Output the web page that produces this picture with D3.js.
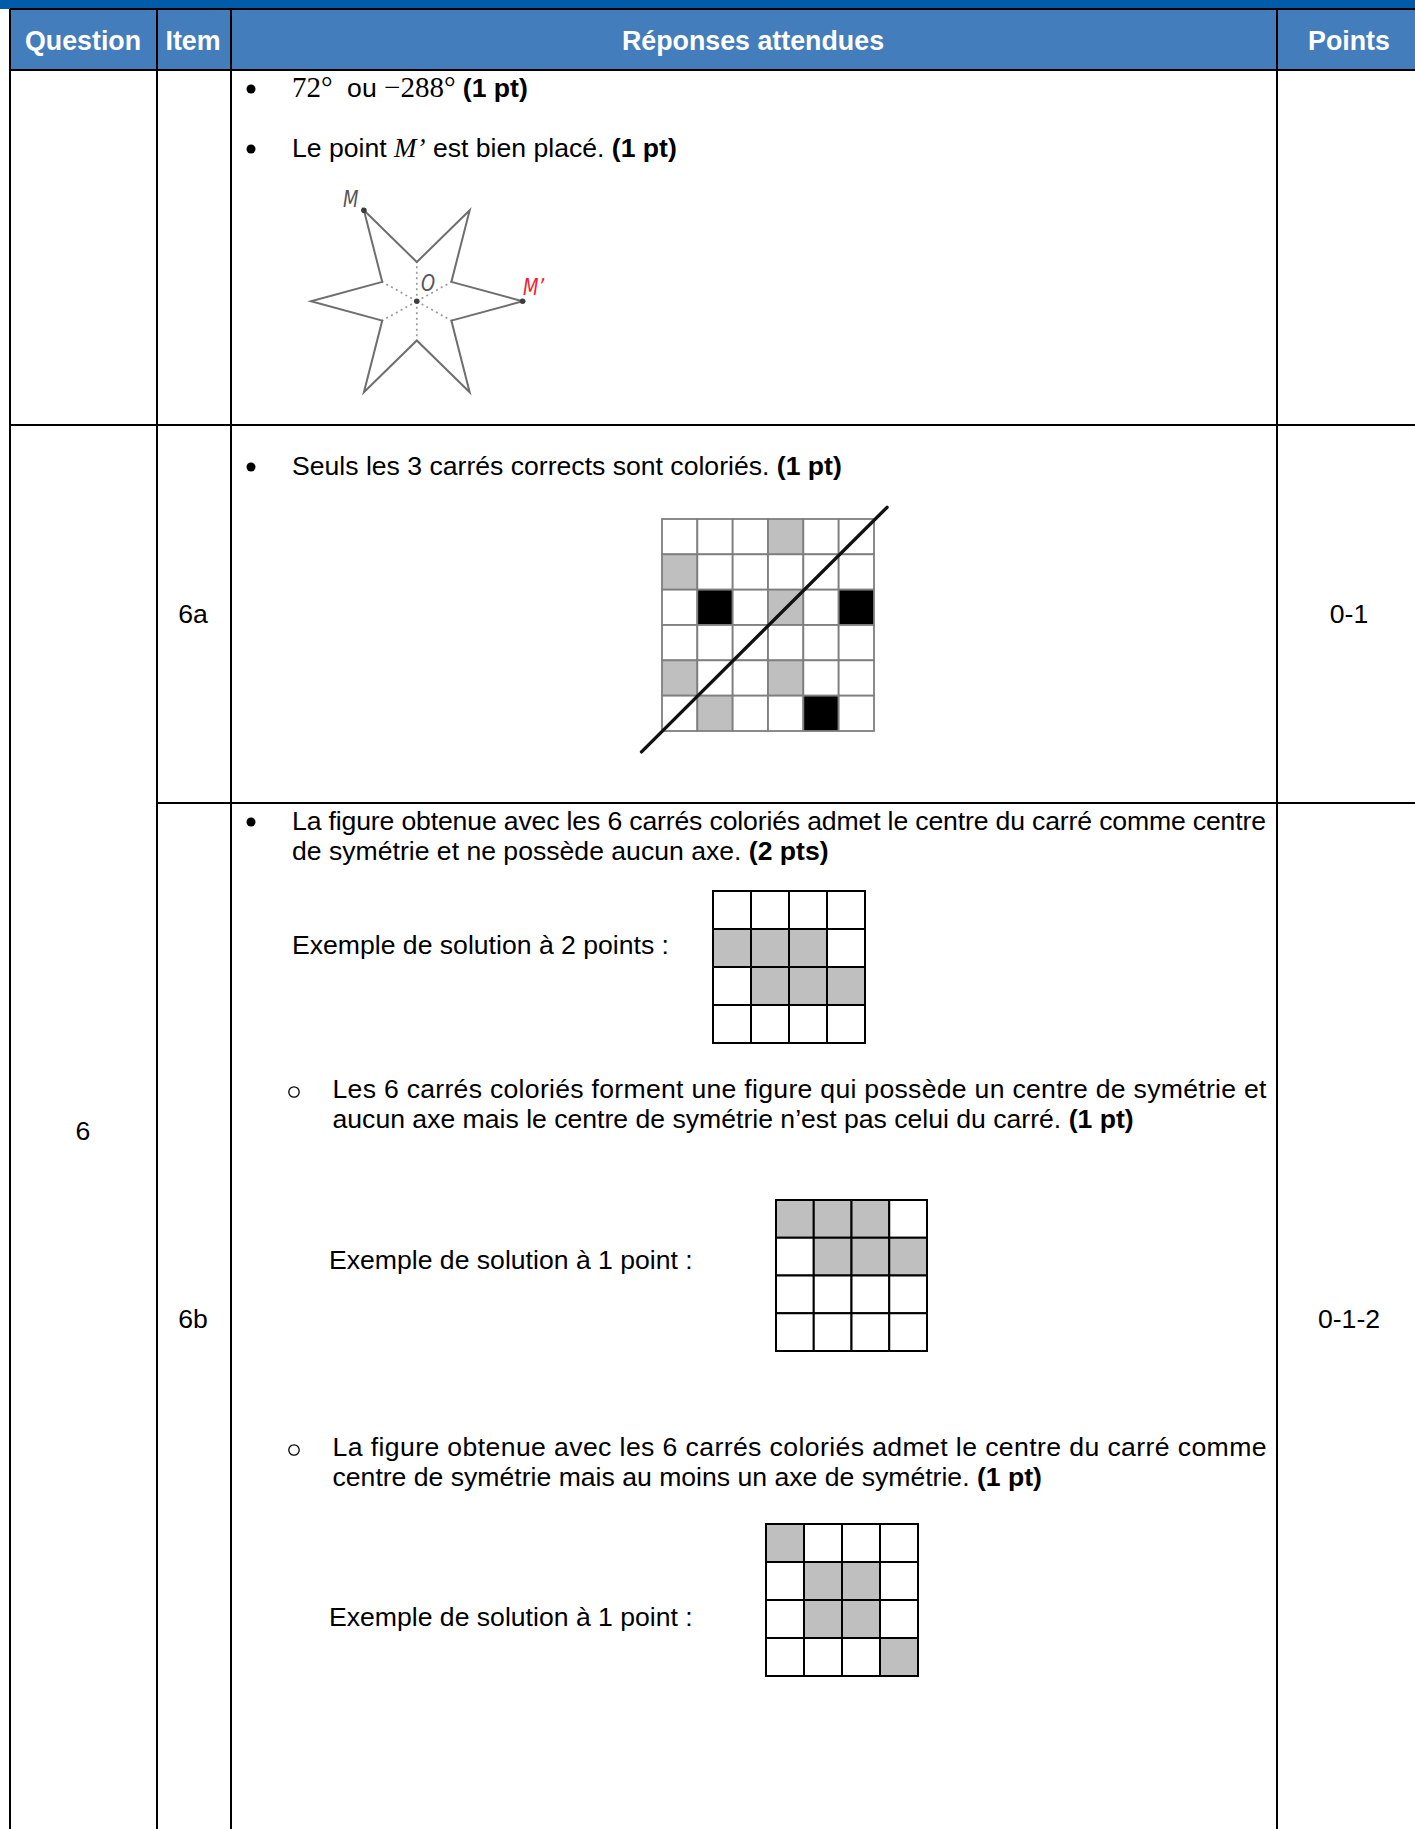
<!DOCTYPE html>
<html>
<head>
<meta charset="utf-8">
<script src="https://cdn.jsdelivr.net/npm/d3@7"></script>
<style>
  body { margin: 0; background: #fff; }
  text { font-family: "Liberation Sans", Arial, sans-serif; fill: #000; }
</style>
</head>
<body>
<div id="chart"></div>
<script>
// table content
var headers = ["Question", "Item", "Réponses attendues", "Points"];
var questionLabels = ["6"];
var itemLabels = ["6a", "6b"];
var pointLabels = ["0-1", "0-1-2"];

// shaded cells of each grid, [row, col]
var cells6aGray = [[0,3],[1,0],[2,3],[4,0],[4,3],[5,1]];
var cells6aBlack = [[2,1],[2,5],[5,4]];
var cellsSol2 = [[1,0],[1,1],[1,2],[2,1],[2,2],[2,3]];
var cellsSol1a = [[0,0],[0,1],[0,2],[1,1],[1,2],[1,3]];
var cellsSol1b = [[0,0],[1,1],[1,2],[2,1],[2,2],[3,3]];
// axis of 6a in grid units
var axis6a = [[-0.58,6.59],[6.37,-0.33]];

// star in its own units, O at the origin
var starPoints = [[-3,5.18],[0,2.23],[3,5.18],[1.96,1.1],[6,0],[1.96,-1.1],[3,-5.18],[0,-2.23],[-3,-5.18],[-1.96,-1.1],[-6,0],[-1.96,1.1]];
var starInner = [[0,2.23],[1.96,1.1],[1.96,-1.1],[0,-2.23],[-1.96,-1.1],[-1.96,1.1]];
var starDots = [[0,0],[-3,5.18],[6,0]];

var width = 1415, height = 1829, fs = 26.6;

var svg = d3.select("#chart").append("svg")
    .attr("width", width)
    .attr("height", height)
    .style("display", "block");

// header bands
svg.append("rect").attr("width", width).attr("height", 9).attr("fill", "#005ca9");
svg.append("rect").attr("x", 10).attr("y", 9).attr("width", width - 10).attr("height", 61).attr("fill", "#447dbc");

// table rules
var rules = [
  [10, 9, width, 9], [10, 70, width, 70], [10, 425, width, 425], [157, 803, width, 803],
  [10, 9, 10, height], [157, 9, 157, height], [231, 9, 231, height], [1277, 9, 1277, height]
];
svg.append("g").selectAll("line").data(rules).enter().append("line")
    .attr("x1", function(d) { return d[0]; })
    .attr("y1", function(d) { return d[1]; })
    .attr("x2", function(d) { return d[2]; })
    .attr("y2", function(d) { return d[3]; })
    .attr("stroke", "#000")
    .attr("stroke-width", 2);

// header labels
var headerX = [83, 193, 753, 1349];
svg.append("g").selectAll("text").data(headers).enter().append("text")
    .attr("x", function(d, i) { return headerX[i]; })
    .attr("y", 50)
    .attr("text-anchor", "middle")
    .attr("font-size", 26.8)
    .attr("font-weight", "bold")
    .style("fill", "#fff")
    .text(function(d) { return d; });

function centered(x, y, label) {
  svg.append("text").attr("x", x).attr("y", y)
      .attr("text-anchor", "middle").attr("font-size", fs).text(label);
}
centered(83, 1140, questionLabels[0]);
centered(193, 623, itemLabels[0]);
centered(193, 1328, itemLabels[1]);
centered(1349, 623, pointLabels[0]);
centered(1349, 1328, pointLabels[1]);

// a line of text from runs: [string, style]; b bold, m math, i math italic
function line(x, y, runs, justify) {
  var t = svg.append("text").attr("x", x).attr("y", y).attr("font-size", fs)
      .attr("xml:space", "preserve").style("white-space", "pre");
  if (justify) t.attr("textLength", justify).attr("lengthAdjust", "spacing");
  runs.forEach(function(r) {
    var s = t.append("tspan").text(r[0]);
    if (r[1] == "b") s.attr("font-weight", "bold");
    if (r[1] == "m") s.style("font-family", "'Liberation Serif'").attr("font-size", 29);
    if (r[1] == "i") s.style("font-family", "'Liberation Serif'").attr("font-style", "italic").attr("font-size", 27);
  });
}

function bullet(x, y) {
  svg.append("circle").attr("cx", x).attr("cy", y).attr("r", 4.5).attr("fill", "#000");
}
function ring(x, y) {
  svg.append("circle").attr("cx", x).attr("cy", y).attr("r", 5.2)
      .attr("fill", "none").attr("stroke", "#000").attr("stroke-width", 1.3);
}

bullet(251, 89);
line(292, 97, [["72°  ", "m"], ["ou ", ""], ["−288° ", "m"], ["(1 pt)", "b"]]);
bullet(251, 149);
line(292, 157, [["Le point ", ""], ["M’", "i"], [" est bien placé. ", ""], ["(1 pt)", "b"]]);
bullet(251, 467);
line(292, 475, [["Seuls les 3 carrés corrects sont coloriés. ", ""], ["(1 pt)", "b"]]);
bullet(251, 822);
line(292, 830, [["La figure obtenue avec les 6 carrés coloriés admet le centre du carré comme centre", ""]], 974);
line(292, 860, [["de symétrie et ne possède aucun axe. ", ""], ["(2 pts)", "b"]]);
line(292, 954, [["Exemple de solution à 2 points :", ""]]);
ring(294, 1092);
line(332.5, 1098, [["Les 6 carrés coloriés forment une figure qui possède un centre de symétrie et", ""]], 934);
line(332.5, 1128, [["aucun axe mais le centre de symétrie n’est pas celui du carré. ", ""], ["(1 pt)", "b"]]);
line(329, 1269, [["Exemple de solution à 1 point :", ""]]);
ring(294, 1450);
line(332.5, 1456, [["La figure obtenue avec les 6 carrés coloriés admet le centre du carré comme", ""]], 934);
line(332.5, 1486, [["centre de symétrie mais au moins un axe de symétrie. ", ""], ["(1 pt)", "b"]]);
line(329, 1626, [["Exemple de solution à 1 point :", ""]]);

// square grids
function grid(x0, y0, size, n, layers, stroke, sw) {
  var x = d3.scaleBand().domain(d3.range(n)).range([x0, x0 + size]);
  var y = d3.scaleBand().domain(d3.range(n)).range([y0, y0 + size]);
  var g = svg.append("g");
  var all = d3.cross(d3.range(n), d3.range(n));
  g.selectAll("rect").data(all).enter().append("rect")
      .attr("x", function(d) { return x(d[1]); })
      .attr("y", function(d) { return y(d[0]); })
      .attr("width", x.bandwidth())
      .attr("height", y.bandwidth())
      .attr("stroke", stroke)
      .attr("stroke-width", sw)
      .attr("fill", function(d) {
        var f = "#fff";
        layers.forEach(function(l) {
          if (l.cells.some(function(c) { return c[0] == d[0] && c[1] == d[1]; })) f = l.color;
        });
        return f;
      });
}

grid(662, 519, 212, 6, [{cells: cells6aGray, color: "#bfbfbf"}, {cells: cells6aBlack, color: "#000"}], "#7f7f7f", 1.8);
grid(713, 891, 152, 4, [{cells: cellsSol2, color: "#bfbfbf"}], "#000", 2);
grid(776, 1200, 151, 4, [{cells: cellsSol1a, color: "#bfbfbf"}], "#000", 2);
grid(766, 1524, 152, 4, [{cells: cellsSol1b, color: "#bfbfbf"}], "#000", 2);

// axis through the 6a grid
var ax = d3.scaleLinear().domain([0, 6]).range([662, 874]);
var ay = d3.scaleLinear().domain([0, 6]).range([519, 731]);
svg.append("path")
    .attr("d", d3.line().x(function(d) { return ax(d[0]); }).y(function(d) { return ay(d[1]); })(axis6a))
    .attr("stroke", "#111")
    .attr("stroke-width", 3.4)
    .attr("stroke-linecap", "round")
    .attr("fill", "none");

// star
var sx = d3.scaleLinear().domain([-6, 6]).range([311, 522.6]);
var sy = d3.scaleLinear().domain([-5.18, 5.18]).range([392.3, 210.2]);
var star = svg.append("g");
star.selectAll("line").data(starInner).enter().append("line")
    .attr("x1", sx(0)).attr("y1", sy(0))
    .attr("x2", function(d) { return sx(d[0]); })
    .attr("y2", function(d) { return sy(d[1]); })
    .attr("stroke", "#9a9a9a")
    .attr("stroke-width", 1.7)
    .attr("stroke-dasharray", "2 3.5");
star.append("path")
    .attr("d", d3.line().x(function(d) { return sx(d[0]); }).y(function(d) { return sy(d[1]); }).curve(d3.curveLinearClosed)(starPoints))
    .attr("fill", "none")
    .attr("stroke", "#6e6e6e")
    .attr("stroke-width", 2);
star.selectAll("circle").data(starDots).enter().append("circle")
    .attr("cx", function(d) { return sx(d[0]); })
    .attr("cy", function(d) { return sy(d[1]); })
    .attr("r", 2.8)
    .attr("fill", "#3c3c3c");

function starLabel(x, y, s, c) {
  svg.append("text")
      .attr("transform", "translate(" + x + "," + y + ") scale(0.78,1)")
      .attr("font-size", 23)
      .attr("font-style", "italic")
      .style("font-family", "'DejaVu Sans'")
      .style("fill", c).text(s);
}
starLabel(343, 207, "M", "#555");
starLabel(421, 291, "O", "#555");
starLabel(523, 295, "M’", "#ee2233");
</script>
</body>
</html>
